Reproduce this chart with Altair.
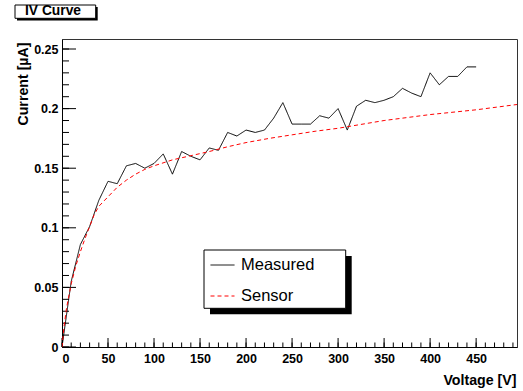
import altair as alt
import pandas as pd

# ---- data ----
voltage_measured = [0, 10, 20, 30, 40, 50, 60, 70, 80, 90, 100, 110, 120, 130, 140, 150,
                    160, 170, 180, 190, 200, 210, 220, 230, 240, 250, 260, 270, 280, 290,
                    300, 310, 320, 330, 340, 350, 360, 370, 380, 390, 400, 410, 420, 430,
                    440, 450]
current_measured = [0.0, 0.055, 0.086, 0.101, 0.123, 0.139, 0.137, 0.152, 0.154, 0.150,
                    0.154, 0.162, 0.145, 0.164, 0.160, 0.157, 0.167, 0.165, 0.180, 0.177,
                    0.182, 0.180, 0.182, 0.192, 0.205, 0.187, 0.187, 0.187, 0.194, 0.192,
                    0.200, 0.182, 0.202, 0.207, 0.205, 0.207, 0.210, 0.217, 0.213, 0.210,
                    0.230, 0.220, 0.227, 0.227, 0.235, 0.235]

voltage_sensor = [0, 2, 5, 10, 15, 20, 25, 30, 35, 40, 45, 50, 60, 70, 80, 90, 100, 120,
                  140, 160, 180, 200, 225, 250, 275, 300, 350, 400, 450, 495]
current_sensor = [0.0, 0.016, 0.033, 0.053, 0.068, 0.080, 0.091, 0.101, 0.111, 0.118,
                  0.122, 0.126, 0.134, 0.140, 0.145, 0.149, 0.152, 0.157, 0.1605, 0.164,
                  0.168, 0.1715, 0.175, 0.178, 0.181, 0.1835, 0.190, 0.195, 0.199, 0.2035]

series_names = ["Measured", "Sensor"]
series_colors = ["#000000", "#ff0000"]

x_major = [0, 50, 100, 150, 200, 250, 300, 350, 400, 450]
x_minor = [v for v in range(0, 491, 10)]
y_major = [0, 0.05, 0.1, 0.15, 0.2, 0.25]
y_minor = [0, 0.01, 0.02, 0.03, 0.04, 0.05, 0.06, 0.07, 0.08, 0.09, 0.1, 0.11, 0.12,
           0.13, 0.14, 0.15, 0.16, 0.17, 0.18, 0.19, 0.2, 0.21, 0.22, 0.23, 0.24, 0.25]

title_text = "IV Curve"
x_title = "Voltage [V]"
y_title = "Current [\u00b5A]"

# ---- layout ----
W, H = 455, 308
FONT = "Liberation Sans"

x_scale = alt.Scale(domain=[0, 494.4], nice=False, zero=False)
y_scale = alt.Scale(domain=[0, 0.2584], nice=False, zero=False)

x_axis = alt.Axis(values=x_major, ticks=False, tickSize=0, grid=False, labelPadding=5,
                  labelFontSize=12.5, labelFontWeight="bold", labelFont=FONT,
                  labelColor="black", domainColor="black", title=x_title,
                  titleFont=FONT, titleFontSize=14.2, titleFontWeight="bold",
                  titleColor="black", titleAnchor="end", titleAlign="right",
                  titleBaseline="alphabetic", titleX=454, titleY=37)
y_axis = alt.Axis(values=y_major, ticks=False, tickSize=0, grid=False, labelPadding=4,
                  format=".2~f", labelFontSize=12.5, labelFontWeight="bold",
                  labelFont=FONT, labelColor="black", domainColor="black",
                  title=y_title, titleFont=FONT, titleFontSize=14.2,
                  titleFontWeight="bold", titleColor="black", titleAngle=270,
                  titleAlign="right", titleBaseline="alphabetic", titleX=-35,
                  titleY=3)


def X(field="voltage"):
    return alt.X(f"{field}:Q", scale=x_scale, axis=x_axis)


def Y(field="current"):
    return alt.Y(f"{field}:Q", scale=y_scale, axis=y_axis)


one = pd.DataFrame({"a": [0]})

df = pd.concat([
    pd.DataFrame({"voltage": voltage_measured, "current": current_measured,
                  "series": series_names[0]}),
    pd.DataFrame({"voltage": voltage_sensor, "current": current_sensor,
                  "series": series_names[1]}),
], ignore_index=True)

# title box with shadow
title_shadow = alt.Chart(one).mark_rect(color="black").encode(
    x=alt.value(-45), x2=alt.value(35.7), y=alt.value(-32), y2=alt.value(-18.5))
title_box = alt.Chart(one).mark_rect(fill="white", stroke="black", strokeWidth=1).encode(
    x=alt.value(-47), x2=alt.value(33.7), y=alt.value(-34), y2=alt.value(-20.7))
title_txt = alt.Chart(one).mark_text(
    text=title_text, font=FONT, fontSize=13.8, fontWeight="bold", color="black",
    align="center", baseline="alphabetic").encode(x=alt.value(-9), y=alt.value(-24))

# legend box with shadow
legend_shadow = alt.Chart(one).mark_rect(color="black").encode(
    x=alt.value(148), x2=alt.value(289.7), y=alt.value(217), y2=alt.value(275.3))
legend_box = alt.Chart(one).mark_rect(fill="white", stroke="black", strokeWidth=1).encode(
    x=alt.value(142), x2=alt.value(283.7), y=alt.value(211), y2=alt.value(269.3))

legend_cfg = dict(orient="none", legendX=148, legendY=213.5, title=None,
                  symbolType="stroke", symbolSize=576, symbolStrokeWidth=1,
                  labelFont=FONT, labelFontSize=16.5, labelColor="black",
                  labelOffset=6, rowPadding=10, padding=0)

lines = alt.Chart(df).mark_line(strokeWidth=1, clip=True).encode(
    x=X(), y=Y(),
    color=alt.Color("series:N",
                    scale=alt.Scale(domain=series_names, range=series_colors),
                    legend=alt.Legend(**legend_cfg)),
    strokeDash=alt.StrokeDash("series:N",
                              scale=alt.Scale(domain=series_names,
                                              range=[[1, 0], [4, 3]]),
                              legend=alt.Legend(**legend_cfg)),
    order=alt.Order("voltage:Q"),
)

# inward ticks (ROOT style)
y_major_ticks = alt.Chart(pd.DataFrame({"current": y_major})).mark_rule(
    color="black", strokeWidth=1).encode(y=Y(), x=alt.value(0), x2=alt.value(14))
y_minor_ticks = alt.Chart(pd.DataFrame({"current": y_minor})).mark_rule(
    color="black", strokeWidth=1).encode(y=Y(), x=alt.value(0), x2=alt.value(7))
x_major_ticks = alt.Chart(pd.DataFrame({"voltage": x_major})).mark_rule(
    color="black", strokeWidth=1).encode(x=X(), y=alt.value(H), y2=alt.value(H - 9))
x_minor_ticks = alt.Chart(pd.DataFrame({"voltage": x_minor})).mark_rule(
    color="black", strokeWidth=1).encode(x=X(), y=alt.value(H), y2=alt.value(H - 4.5))

chart = alt.layer(
    title_shadow, title_box, title_txt,
    legend_shadow, legend_box,
    y_minor_ticks, y_major_ticks, x_minor_ticks, x_major_ticks,
    lines,
).properties(
    width=W, height=H,
    autosize=alt.AutoSizeParams(type="none"),
    padding={"left": 62, "top": 39, "right": 6, "bottom": 44},
    background="white",
).configure_view(stroke="#333333", strokeWidth=1)

chart.save("out.html", embed_options={"renderer": "svg", "actions": False})
